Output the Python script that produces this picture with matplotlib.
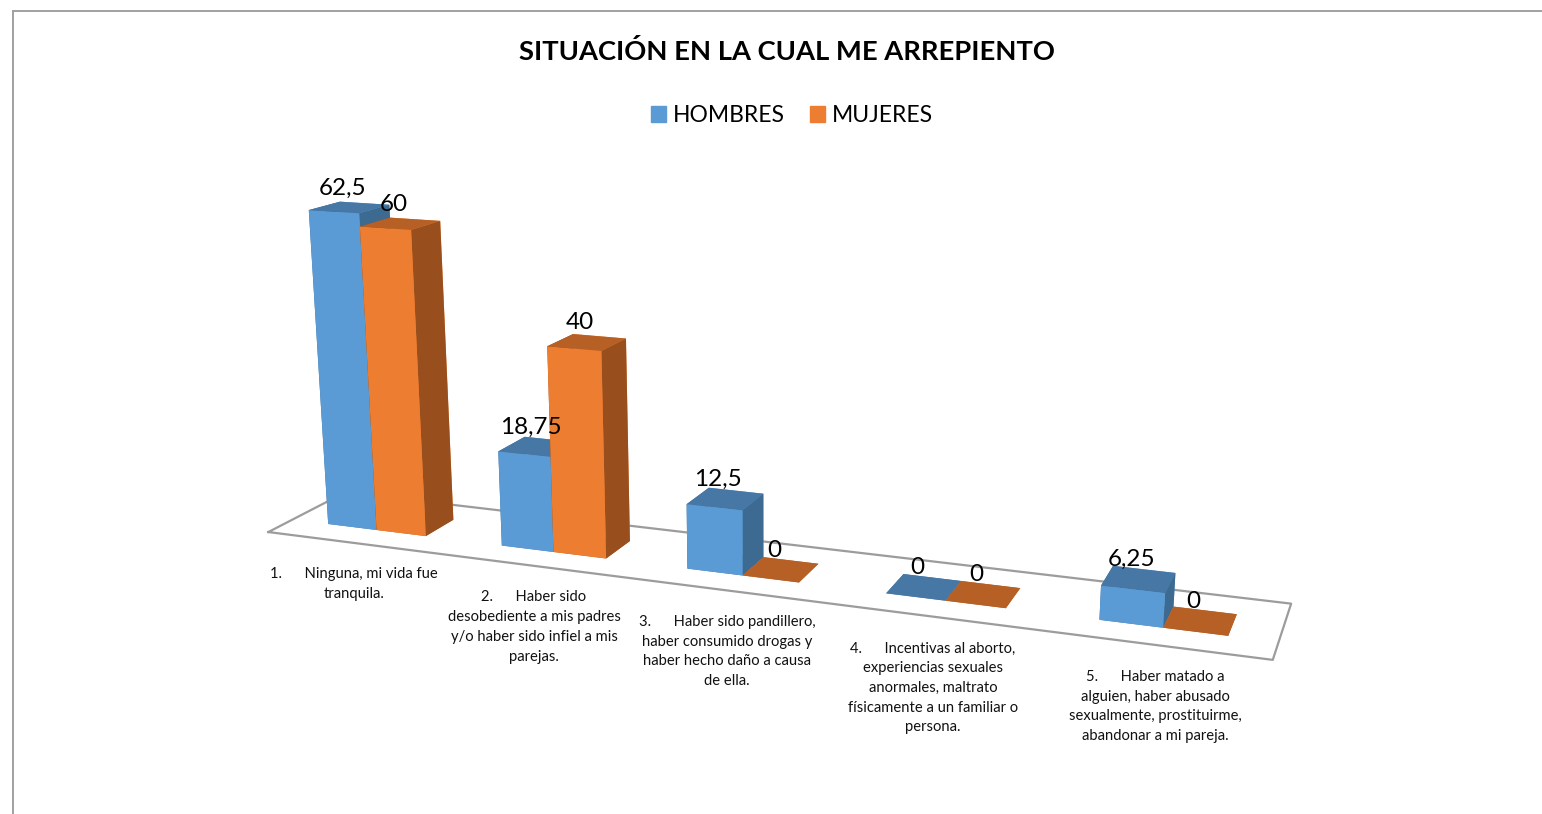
import numpy as np
from matplotlib import pyplot as plt
from matplotlib.lines import Line2D
from matplotlib.patches import Patch
from mpl_toolkits.mplot3d import proj3d

plt.rcParams['font.family'] = ['Lato', 'DejaVu Sans']

W, H = 1542, 814

titulo = "SITUACIÓN EN LA CUAL ME ARREPIENTO"
hombres = [62.5, 18.75, 12.5, 0, 6.25]
mujeres = [60, 40, 0, 0, 0]
hombres_txt = ["62,5", "18,75", "12,5", "0", "6,25"]
mujeres_txt = ["60", "40", "0", "0", "0"]
categorias = [
    "1.      Ninguna, mi vida fue\ntranquila.",
    "2.      Haber sido\ndesobediente a mis padres\ny/o haber sido infiel a mis\nparejas.",
    "3.      Haber sido pandillero,\nhaber consumido drogas y\nhaber hecho daño a causa\nde ella.",
    "4.      Incentivas al aborto,\nexperiencias sexuales\nanormales, maltrato\nfísicamente a un familiar o\npersona.",
    "5.      Haber matado a\nalguien, haber abusado\nsexualmente, prostituirme,\nabandonar a mi pareja.",
]
cat_x = [354, 534, 727, 933, 1155]
cat_y = [584, 627, 651.5, 688, 706.5]

# colours: front, top, side
azul = ['#5B9BD5', '#4777A5', '#3D6A90']
naranja = ['#ED7D31', '#B66026', '#984F1D']

# camera fitted against the picture
cx, cy, s = 779.605, 427.568, np.exp(9.37233)
a, w, y0, d = 0.213481, 0.285137, 0.300186, 0.39083

fig = plt.figure(figsize=(W/100, H/100), dpi=100)
ax = fig.add_axes([0, 0, 1, 1], projection='3d', computed_zorder=False)
ax.set_box_aspect((1, 1, 1))
ax.view_init(15.3722, -70.0934, -0.0850346)
ax.set_proj_type('persp', focal_length=np.exp(-1.77748))

n = len(hombres)
ax.plot([0, n, n, 0, 0], [0, 0, 1, 1, 0], [0, 0, 0, 0, 0], color='#9C9C9C', lw=1.6, zorder=1)

orden = 2
etiquetas = []
for i in range(n):
    for k, (vals, col, txt) in enumerate([(hombres, azul, hombres_txt), (mujeres, naranja, mujeres_txt)]):
        x = i + a + k*w
        ax.bar3d(x, y0, 0, w, d, vals[i],
                 color=[col[1], col[1], col[0], col[0], col[2], col[2]],
                 shade=False, edgecolor='none', zorder=orden)
        etiquetas.append((x + w/2, y0 + d/2, vals[i], txt[i]))
        orden += 1

wx, wy, wz = np.exp(1.29552), np.exp(1.61312), np.exp(4.94358)
ax.set_xlim(2.02889-wx, 2.02889+wx)
ax.set_ylim(2.78973-wy, 2.78973+wy)
ax.set_zlim(8.44793-wz, 8.44793+wz)
ax.set_axis_off()
ax.patch.set_alpha(0)

vx0, vx1 = ax.viewLim.intervalx
vy0, vy1 = ax.viewLim.intervaly
izq, der, arr, aba = cx + vx0*s, cx + vx1*s, cy - vy1*s, cy - vy0*s
ax.set_position([izq/W, 1 - aba/H, (der - izq)/W, (aba - arr)/H])

# data labels sit a fixed number of pixels from the top of each bar
M = ax.get_proj()
for x, y, z, t in etiquetas:
    x2, y2, _ = proj3d.proj_transform(x, y, z, M)
    ax.annotate(t, xy=(x2, y2), xycoords='data', xytext=(-7, 19.5), textcoords='offset pixels',
                fontsize=17.5, ha='center', va='center', color='black', zorder=50)

fig.text(787/W, 1 - 52/H, titulo, fontsize=19.7, fontweight='bold', ha='center', va='center')

fig.legend(handles=[Patch(color=azul[0], label='HOMBRES'), Patch(color=naranja[0], label='MUJERES')],
           loc='center', bbox_to_anchor=(792/W, 1 - 115.5/H), ncol=2, frameon=False, fontsize=16.5,
           handlelength=0.65, handleheight=0.65, handletextpad=0.3, columnspacing=1.1)

for t, x_, y_ in zip(categorias, cat_x, cat_y):
    fig.text(x_/W, 1 - y_/H, t, fontsize=10.6, ha='center', va='center', linespacing=1.52, color='#111111')

fig.add_artist(Line2D([13/W, 1], [1 - 11/H, 1 - 11/H], color='#A0A0A0', lw=1.4))
fig.add_artist(Line2D([13/W, 13/W], [1 - 11/H, 0], color='#A0A0A0', lw=1.4))

fig.savefig('out.png', dpi=100)
